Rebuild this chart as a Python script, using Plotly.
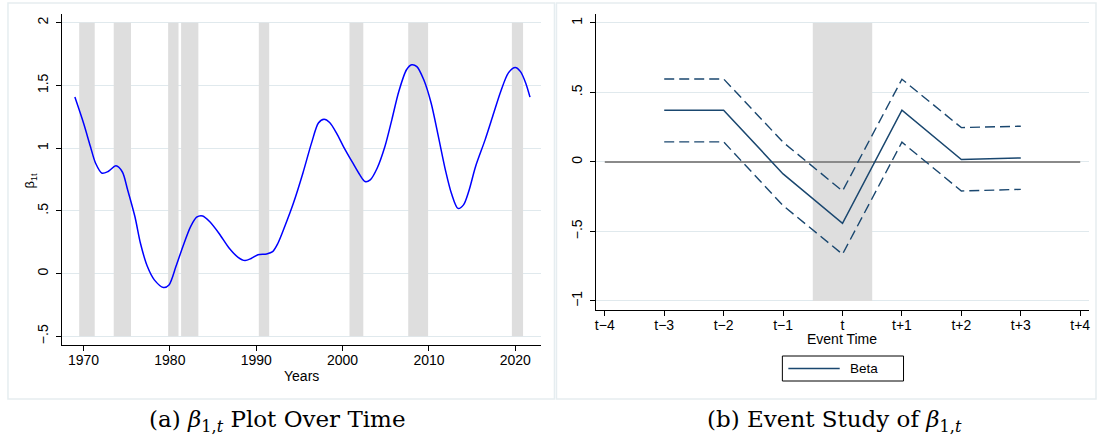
import plotly.graph_objects as go

W, H = 1099, 445

# ---- Panel (a): beta_{1,t} path over time ----
years = [1969.0, 1970.0, 1970.8, 1971.4, 1972.15, 1972.85, 1973.76, 1974.5, 1975.1,
         1975.95, 1976.6, 1977.4, 1978.2, 1979.25, 1979.9, 1980.7, 1981.5, 1982.4,
         1983.1, 1983.8, 1984.6, 1985.7, 1986.9, 1987.9, 1988.7, 1989.4, 1990.2,
         1991.2, 1991.9, 1992.5, 1993.3, 1994.3, 1995.4, 1996.4, 1997.2, 1997.85,
         1998.5, 1999.3, 2000.1, 2001.2, 2002.0, 2002.6, 2003.2, 2004.0, 2004.9,
         2005.7, 2006.5, 2007.4, 2008.0, 2008.6, 2009.4, 2010.25, 2011.1, 2011.9,
         2012.6, 2013.35, 2014.0, 2014.6, 2015.4, 2016.5, 2017.5, 2018.3, 2019.2,
         2020.0, 2020.6, 2021.2, 2021.7]
beta_path = [1.407, 1.20, 1.013, 0.88, 0.80, 0.814, 0.859, 0.81, 0.67,
             0.455, 0.24, 0.056, -0.05, -0.11, -0.09, 0.056, 0.215, 0.375,
             0.45, 0.46, 0.415, 0.32, 0.20, 0.13, 0.104, 0.12, 0.15,
             0.157, 0.175, 0.24, 0.375, 0.56, 0.80, 1.04, 1.20, 1.23,
             1.205, 1.12, 1.013, 0.88, 0.787, 0.734, 0.747, 0.84, 1.013,
             1.226, 1.45, 1.625, 1.665, 1.65, 1.545, 1.36, 1.09, 0.827,
             0.64, 0.52, 0.548, 0.654, 0.854, 1.066, 1.28, 1.45, 1.60,
             1.643, 1.61, 1.52, 1.407]
rec_start = [1969.5, 1973.5, 1979.8, 1981.3, 1990.3, 2000.8, 2007.6, 2019.6]
rec_end = [1971.3, 1975.5, 1981.0, 1983.3, 1991.5, 2002.4, 2009.9, 2020.9]
year_ticks = [1970, 1980, 1990, 2000, 2010, 2020]
left_yticks = [-0.5, 0, 0.5, 1, 1.5, 2]
left_yticktext = ["\u2212.5", "0", ".5", "1", "1.5", "2"]

# ---- Panel (b): event study ----
event_pos = [-4, -3, -2, -1, 0, 1, 2, 3, 4]
event_labels = ["t\u22124", "t\u22123", "t\u22122", "t\u22121", "t", "t+1", "t+2", "t+3", "t+4"]
event_t = [-3, -2, -1, 0, 1, 2, 3]
beta_est = [0.372, 0.372, -0.086, -0.441, 0.372, 0.017, 0.029]
beta_hi = [0.597, 0.597, 0.142, -0.209, 0.595, 0.247, 0.257]
beta_lo = [0.144, 0.144, -0.314, -0.664, 0.142, -0.209, -0.197]
right_yticks = [-1, -0.5, 0, 0.5, 1]
right_yticktext = ["\u22121", "\u2212.5", "0", ".5", "1"]

NAVY = "#1a476f"
GRID = "#e0e9ed"
FRAME = "#e6edf0"
SANS = "Liberation Sans, Arial, sans-serif"
SERIF = "DejaVu Serif, serif"


def fx(px):
    return px / W


def fy(py):
    return 1 - py / H


fig = go.Figure()

fig.add_trace(go.Scatter(
    x=years, y=beta_path, mode="lines",
    line=dict(color="#0000ff", width=1.5, shape="spline", smoothing=0.8),
    xaxis="x", yaxis="y", showlegend=False, hoverinfo="skip"))

fig.add_trace(go.Scatter(
    x=[event_pos[0], event_pos[-1]], y=[0, 0], mode="lines",
    line=dict(color="#8a8a8a", width=2),
    xaxis="x2", yaxis="y2", showlegend=False, hoverinfo="skip"))
for band in (beta_hi, beta_lo):
    fig.add_trace(go.Scatter(
        x=event_t, y=band, mode="lines",
        line=dict(color=NAVY, width=1.4, dash="10px,5px"),
        xaxis="x2", yaxis="y2", showlegend=False, hoverinfo="skip"))
fig.add_trace(go.Scatter(
    x=event_t, y=beta_est, mode="lines", name="Beta",
    line=dict(color=NAVY, width=1.5),
    xaxis="x2", yaxis="y2", showlegend=False))

shapes = []
for s, e in zip(rec_start, rec_end):
    shapes.append(dict(type="rect", xref="x", yref="y", x0=s, x1=e,
                       y0=left_yticks[0], y1=left_yticks[-1],
                       fillcolor="#dedede", line=dict(width=0), layer="between"))
shapes.append(dict(type="rect", xref="x2", yref="y2", x0=-0.5, x1=0.5,
                   y0=right_yticks[0], y1=right_yticks[-1],
                   fillcolor="#dedede", line=dict(width=0), layer="between"))

# graph-region outlines
shapes.append(dict(type="rect", xref="paper", yref="paper",
                   x0=fx(7), x1=fx(555), y0=fy(399), y1=fy(3),
                   line=dict(color=FRAME, width=1.5), fillcolor="rgba(0,0,0,0)"))
shapes.append(dict(type="rect", xref="paper", yref="paper",
                   x0=fx(557), x1=fx(1098), y0=fy(399), y1=fy(3),
                   line=dict(color=FRAME, width=1.5), fillcolor="rgba(0,0,0,0)"))

# legend box for panel (b)
shapes.append(dict(type="rect", xref="paper", yref="paper",
                   x0=fx(783.5), x1=fx(905), y0=fy(381), y1=fy(356),
                   line=dict(color="black", width=1), fillcolor="white"))
shapes.append(dict(type="line", xref="paper", yref="paper",
                   x0=fx(789.5), x1=fx(841), y0=fy(368.5), y1=fy(368.5),
                   line=dict(color=NAVY, width=1.5)))

annotations = [
    dict(text="Years", x=fx(301.4), y=fy(375.5), xref="paper", yref="paper",
         showarrow=False, font=dict(family=SANS, size=14, color="black"),
         xanchor="center", yanchor="middle"),
    dict(text="Event Time", x=fx(843.6), y=fy(339), xref="paper", yref="paper",
         showarrow=False, font=dict(family=SANS, size=14, color="black"),
         xanchor="center", yanchor="middle"),
    dict(text="\u03b2<sub>1t</sub>", x=fx(29.5), y=fy(180), xref="paper", yref="paper",
         showarrow=False, textangle=-90, font=dict(family=SANS, size=13, color="black"),
         xanchor="center", yanchor="middle"),
    dict(text="Beta", x=fx(849), y=fy(368.5), xref="paper", yref="paper",
         showarrow=False, font=dict(family=SANS, size=13.5, color="black"),
         xanchor="left", yanchor="middle"),
    dict(text="(a) <i>\u03b2</i><sub>1,<i>t</i></sub> Plot Over Time",
         x=fx(277.7), y=fy(421), xref="paper", yref="paper", showarrow=False,
         font=dict(family=SERIF, size=23, color="black"),
         xanchor="center", yanchor="middle"),
    dict(text="(b) Event Study of <i>\u03b2</i><sub>1,<i>t</i></sub>",
         x=fx(835.8), y=fy(421), xref="paper", yref="paper", showarrow=False,
         font=dict(family=SERIF, size=23, color="black"),
         xanchor="center", yanchor="middle"),
]

axis_common = dict(ticks="outside", ticklen=5, tickwidth=1, tickcolor="black",
                   showline=True, linecolor="black", linewidth=1.2,
                   zeroline=False, tickfont=dict(family=SANS, size=14, color="black"))

fig.update_layout(
    width=W, height=H,
    margin=dict(l=0, r=0, t=0, b=0),
    paper_bgcolor="white", plot_bgcolor="white",
    showlegend=False,
    xaxis=dict(domain=[fx(61), fx(541.7)], range=[1967.49, 2023.0],
               tickvals=year_ticks, showgrid=False, anchor="y",
               ticklabelstandoff=-3, **axis_common),
    yaxis=dict(domain=[fy(345), fy(14.3)], range=[-0.569, 2.067],
               tickvals=left_yticks, ticktext=left_yticktext, tickangle=-90,
               showgrid=True, gridcolor=GRID, gridwidth=1, anchor="x",
               ticklabelstandoff=2, **axis_common),
    xaxis2=dict(domain=[fx(596.5), fx(1090.7)], range=[-4.15, 4.143],
                tickvals=event_pos, ticktext=event_labels, showgrid=False,
                anchor="y2", ticklabelstandoff=-3, **axis_common),
    yaxis2=dict(domain=[fy(310), fy(14.3)], range=[-1.065, 1.062],
                tickvals=right_yticks, ticktext=right_yticktext, tickangle=-90,
                showgrid=True, gridcolor=GRID, gridwidth=1, anchor="x2",
                ticklabelstandoff=2, **axis_common),
    shapes=shapes,
    annotations=annotations,
)

fig.write_html("out.html")
